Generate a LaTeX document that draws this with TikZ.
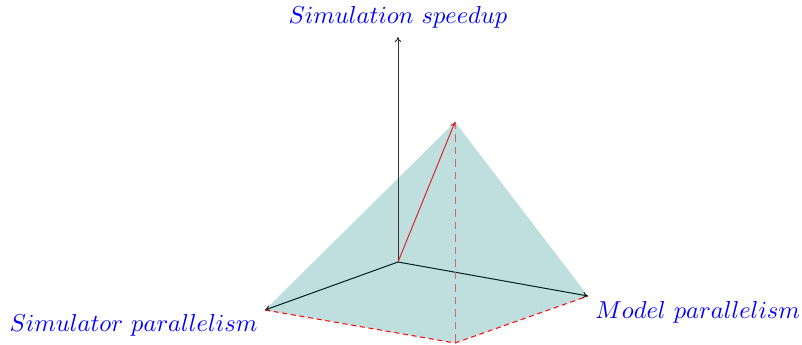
\documentclass[tikz,border=0pt]{standalone}
\usetikzlibrary{arrows.meta}
\begin{document}
\begin{tikzpicture}[x=0.4pt,y=-0.4pt,
  lbl/.style={text=blue,inner sep=0pt,scale=0.98},
  axis/.style={draw=black!80,line width=0.4pt,-{To[length=2pt,width=2.5pt]}},
  edge/.style={draw=red!70!black,dashed,dash pattern=on 2pt off 1.5pt,line width=0.4pt}]
\useasboundingbox (0,0) rectangle (802,345);
\coordinate (O) at (398,262);
\coordinate (T) at (398,37);
\coordinate (A) at (455,122);
\coordinate (L) at (265,310);
\coordinate (R) at (588,296);
\coordinate (B) at (455,343);
\fill[teal!25!white] (L) -- (A) -- (R) -- (B) -- cycle;
\draw[axis] (O) -- (T);
\draw[axis,draw=black!75!teal] (O) -- (L);
\draw[axis,draw=black!75!teal] (O) -- (R);
\draw[axis,draw=red!70!gray] (O) -- (A);
\draw[draw=red!45!gray!80,dashed,dash pattern=on 3pt off 2pt] (A) -- (B);
\draw[edge,draw=red] (L) -- (B) -- (R);
\node[lbl,anchor=south] (ts) at (398,29) {$Simulation\ speedup$};
\node[lbl,anchor=east] (tl) at (258,325) {$Simulator\ parallelism$};
\node[lbl,anchor=west] (tr) at (595,312) {$Model\ parallelism$};
\end{tikzpicture}
\end{document}
